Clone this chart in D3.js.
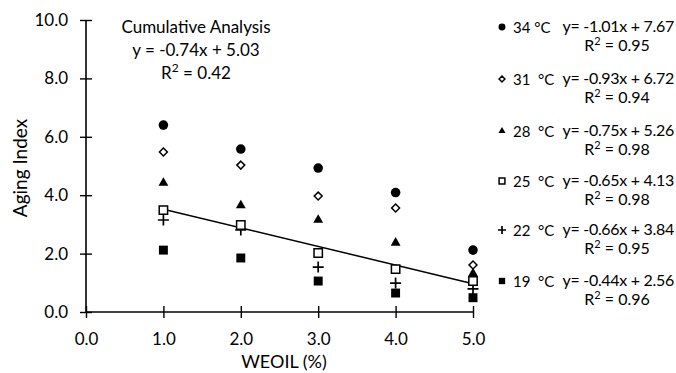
<!DOCTYPE html>
<html><head><meta charset="utf-8">
<script src="https://cdn.jsdelivr.net/npm/d3@7"></script>
<style>
body{margin:0;background:#fff;}
svg text{font-family:Lato,"Open Sans",sans-serif;fill:#000;}
</style></head>
<body><svg id="c" width="676" height="373"></svg>
<script>
const weoil = [1, 2, 3, 4, 5];
const t34 = [6.40, 5.58, 4.93, 4.09, 2.12];
const t31 = [5.48, 5.03, 3.97, 3.56, 1.61];
const t28 = [4.42, 3.65, 3.15, 2.37, 1.32];
const t25 = [3.49, 2.98, 2.02, 1.47, 1.06];
const t22 = [3.15, 2.81, 1.54, 0.99, 0.79];
const t19 = [2.12, 1.85, 1.06, 0.65, 0.49];
const seriesNames = ["34 °C", "31  °C", "28  °C", "25  °C", "22  °C", "19  °C"];
const equations = ["y= -1.01x + 7.67", "y= -0.93x + 6.72", "y= -0.75x + 5.26", "y= -0.65x + 4.13", "y= -0.66x + 3.84", "y= -0.44x + 2.56"];
const r2 = ["0.95", "0.94", "0.98", "0.98", "0.95", "0.96"];
const xTicks = [0, 1, 2, 3, 4, 5];
const yTicks = [0, 2, 4, 6, 8, 10];
const trendX = [1, 5];
const trendY = [3.52, 0.97];
const cumTitle = "Cumulative Analysis";
const cumEq = "y = -0.74x + 5.03";
const cumR2 = "0.42";

const svg = d3.select("#c");
const x = d3.scaleLinear().domain([0, 5]).range([86, 473]);
const y = d3.scaleLinear().domain([0, 10]).range([312, 20]);

// axes
const yAxis = svg.append("g").attr("transform", "translate(86,0)")
  .call(d3.axisLeft(y).tickValues(yTicks).tickFormat(d3.format(".1f")).tickSize(6).tickPadding(12));
yAxis.selectAll(".tick line").attr("x1", -6).attr("x2", 6);
const xAxis = svg.append("g").attr("transform", "translate(0,312)")
  .call(d3.axisBottom(x).tickValues(xTicks).tickFormat(d3.format(".1f")).tickSize(6).tickPadding(15));
xAxis.selectAll(".tick line").attr("y1", -6).attr("y2", 6);
[yAxis, xAxis].forEach(a => {
  a.select(".domain").attr("stroke", "#000").attr("stroke-width", 1.6);
  a.selectAll(".tick line").attr("stroke", "#000").attr("stroke-width", 1.4);
  a.selectAll(".tick text").style("font-size", "17px").attr("fill", "#000");
});
xAxis.select(".domain").attr("d", `M${x(0)},0H${x(5)}`);
yAxis.select(".domain").attr("d", `M0,${y(10)}V${y(0)}`);

// axis titles
svg.append("text").attr("transform", "translate(27,168) rotate(-90)")
  .attr("text-anchor", "middle").style("font-size", "19px").text("Aging Index");
svg.append("text").attr("x", 284).attr("y", 368)
  .attr("text-anchor", "middle").style("font-size", "18px").text("WEOIL (%)");

// markers
const plusPath = s => `M${-s},0H${s}M0,${-s}V${s}`;
const sym = {
  circle: {type: d3.symbolCircle, fill: "#000", stroke: "none"},
  diamond: {type: d3.symbolDiamond2, fill: "#fff", stroke: "#000"},
  triangle: {type: d3.symbolTriangle, fill: "#000", stroke: "none"},
  square: {type: d3.symbolSquare, fill: "#fff", stroke: "#000"},
  plus: {type: null, fill: "none", stroke: "#000"},
  fsquare: {type: d3.symbolSquare, fill: "#000", stroke: "none"}
};
const series = [
  {vals: t34, s: "circle", size: 72, lsize: 38},
  {vals: t31, s: "diamond", size: 40, lsize: 22},
  {vals: t28, s: "triangle", size: 42, lsize: 22},
  {vals: t25, s: "square", size: 70, lsize: 34},
  {vals: t22, s: "plus", size: 5.5, lsize: 4},
  {vals: t19, s: "fsquare", size: 80, lsize: 40}
];
function drawSym(g, st, size) {
  const sp = sym[st];
  const d = st === "plus" ? plusPath(size) : d3.symbol().type(sp.type).size(size)();
  const p = g.append("path").attr("d", d).attr("fill", sp.fill).attr("stroke", sp.stroke);
  if (st === "plus") p.attr("stroke-width", 1.7);
  else if (sp.stroke !== "none") p.attr("stroke-width", 1.5);
  return p;
}

// trend line
svg.append("path")
  .datum(trendX.map((d, i) => [d, trendY[i]]))
  .attr("d", d3.line().x(d => x(d[0])).y(d => y(d[1])))
  .attr("stroke", "#000").attr("stroke-width", 1.5).attr("fill", "none");

const drawOrder = [0, 1, 2, 5, 4, 3];
drawOrder.forEach(i => {
  const s = series[i];
  s.vals.forEach((v, j) => {
    const g = svg.append("g").attr("transform", `translate(${x(weoil[j])},${y(v)})`);
    drawSym(g, s.s, s.size);
  });
});

// cumulative annotation
const cum = svg.append("g").attr("text-anchor", "middle").style("font-size", "17px");
cum.append("text").attr("x", 196).attr("y", 33).text(cumTitle);
cum.append("text").attr("x", 196).attr("y", 56).text(cumEq);
const cr = cum.append("text").attr("x", 196).attr("y", 79);
cr.append("tspan").text("R");
cr.append("tspan").attr("dy", -7).style("font-size", "12px").text("2");
cr.append("tspan").attr("dy", 7).text(" = " + cumR2);

// legend
const rowY = [27, 79, 131, 181, 230, 281];
series.forEach((s, i) => {
  const g = svg.append("g").attr("transform", `translate(502,${rowY[i]})`);
  drawSym(g, s.s, s.lsize);
  svg.append("text").attr("x", 513).attr("y", rowY[i] + 6).style("font-size", "15px")
    .attr("xml:space", "preserve").text(seriesNames[i]);
  svg.append("text").attr("x", 674).attr("y", rowY[i] + 5).attr("text-anchor", "end")
    .style("font-size", "16px").style("letter-spacing", "-0.3px").text(equations[i]);
  const t = svg.append("text").attr("x", 617).attr("y", rowY[i] + 24).attr("text-anchor", "middle")
    .style("font-size", "16px");
  t.append("tspan").text("R");
  t.append("tspan").attr("dy", -6).style("font-size", "11px").text("2");
  t.append("tspan").attr("dy", 6).text(" = " + r2[i]);
});
</script></body></html>
